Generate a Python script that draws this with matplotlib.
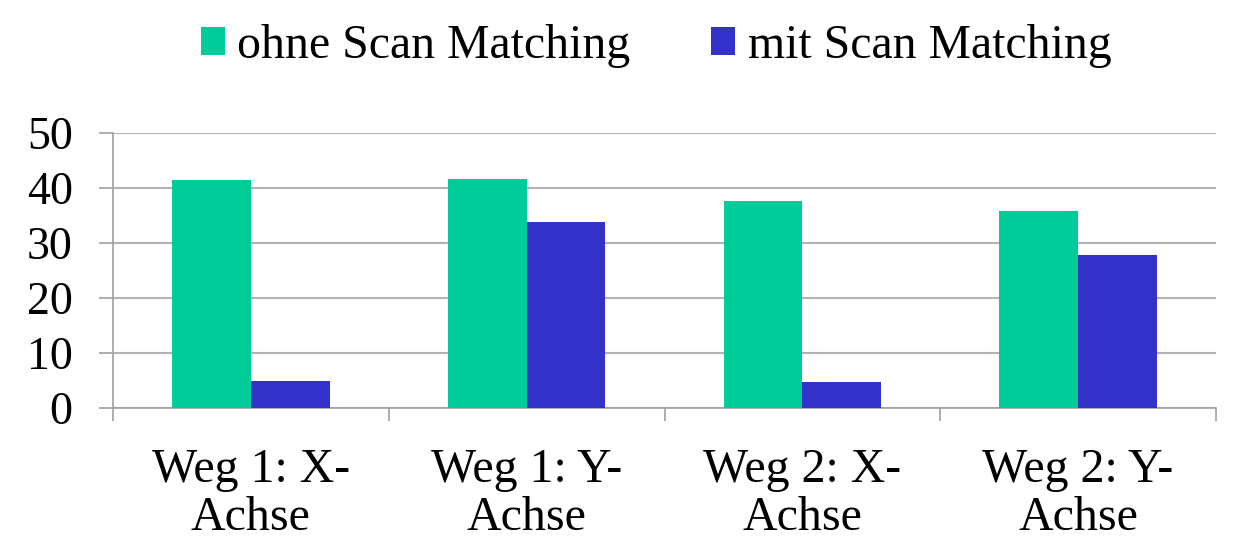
import matplotlib
matplotlib.use("Agg")
import matplotlib.pyplot as plt
import numpy as np

categories = ["Weg 1: X-\nAchse", "Weg 1: Y-\nAchse", "Weg 2: X-\nAchse", "Weg 2: Y-\nAchse"]
ohne = [41.4, 41.6, 37.6, 35.8]
mit = [5.0, 33.8, 4.8, 27.8]
series_names = ["ohne Scan Matching", "mit Scan Matching"]
colors = ["#00CC99", "#3333CC"]
yticks = [0, 10, 20, 30, 40, 50]

plt.rcParams['font.family'] = ['Liberation Serif', 'DejaVu Serif']
FS = 33

fig = plt.figure(figsize=(12.43, 5.37), dpi=100)
ax = fig.add_axes([113/1243, 1-408/537, (1216-113)/1243, (408-133)/537])

x = np.arange(len(categories))
w = 1/3.5
b1 = ax.bar(x - w/2, ohne, width=w, color=colors[0], label=series_names[0], zorder=3)
b2 = ax.bar(x + w/2, mit, width=w, color=colors[1], label=series_names[1], zorder=3)

ax.set_xlim(-0.5, len(categories) - 0.5)
ax.set_ylim(0, 50)
ax.set_yticks(yticks)
ax.set_yticklabels([str(v) for v in yticks], fontsize=FS)
ax.yaxis.grid(True, color="#B3B3B3", linewidth=1.5, zorder=0)
ax.set_axisbelow(True)

ax.set_xticks(x)
ax.set_xticklabels(categories, fontsize=34.5, linespacing=1.12)
ax.set_xticks(np.arange(-0.5, len(categories), 1.0), minor=True)
ax.tick_params(axis='x', which='major', length=0, pad=29)
ax.tick_params(axis='x', which='minor', length=9, width=1.2, color="#A0A0A0")
ax.tick_params(axis='y', length=10, width=1.2, color="#A0A0A0", pad=19)

for s in ["top", "right"]:
    ax.spines[s].set_visible(False)
for s in ["left", "bottom"]:
    ax.spines[s].set_color("#A0A0A0")
    ax.spines[s].set_linewidth(1.2)

fig.legend(handles=[b1, b2], labels=series_names, loc="center", bbox_to_anchor=(656/1243, 1-46/537),
           ncol=2, frameon=False, fontsize=34.4, handlelength=0.5, handleheight=0.5,
           handletextpad=0.26, columnspacing=1.7, borderpad=0)

fig.savefig("out.png", dpi=100)
